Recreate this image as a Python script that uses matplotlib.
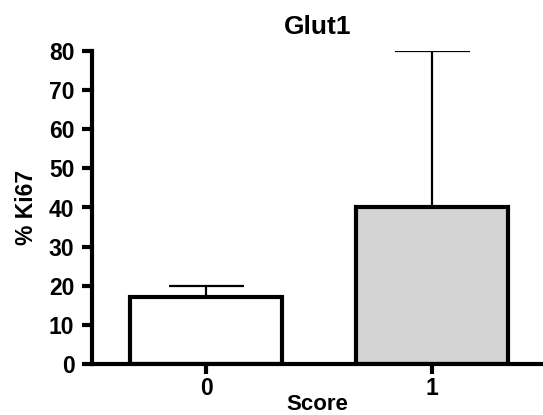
import numpy as np
import matplotlib
matplotlib.use('Agg')
import matplotlib.pyplot as plt

# ── data ─────────────────────────────────────────────────────────────────────
scores     = ['0', '1']
ki67_mean  = [17, 40]       # % Ki67
ki67_err   = [3, 40]        # upper error only
bar_colors = ['white', '#d4d4d4']

plt.rcParams['font.family'] = ['Liberation Sans', 'DejaVu Sans']
plt.rcParams['font.weight'] = 'bold'

fig = plt.figure(figsize=(5.43, 4.15), dpi=100)
ax = fig.add_axes([0.169, 0.123, 0.831, 0.754])

x = np.arange(len(scores))

# error bars first so the bar hides the lower half
ax.errorbar(x, ki67_mean, yerr=[np.zeros(len(x)), ki67_err], fmt='none',
            ecolor='black', elinewidth=1.6, capsize=27, capthick=1.6, zorder=1)
ax.bar(x, ki67_mean, width=0.67, color=bar_colors, edgecolor='black',
       linewidth=3, zorder=2)

ax.set_xlim(-0.506, 1.49)
ax.set_ylim(0, 80)
ax.set_yticks(range(0, 81, 10))
ax.set_xticks(x)
ax.set_xticklabels(scores)

for side in ['top', 'right']:
    ax.spines[side].set_visible(False)
for side in ['left', 'bottom']:
    ax.spines[side].set_linewidth(3)
ax.spines['bottom'].set_zorder(3)

ax.tick_params(axis='both', width=3, length=7.5, labelsize=16.5)
ax.tick_params(axis='y', pad=5)
ax.tick_params(axis='x', pad=2)
for lab in ax.get_xticklabels() + ax.get_yticklabels():
    lab.set_fontweight('bold')

ax.set_ylabel('% Ki67', fontsize=16.5, fontweight='bold', labelpad=8)
ax.set_xlabel('Score', fontsize=16, fontweight='bold', va='baseline')
ax.xaxis.set_label_coords(0.5, -0.148)
ax.set_title('Glut1', fontsize=19, fontweight='bold', pad=12)

plt.savefig('out.png', dpi=100)
plt.close()
